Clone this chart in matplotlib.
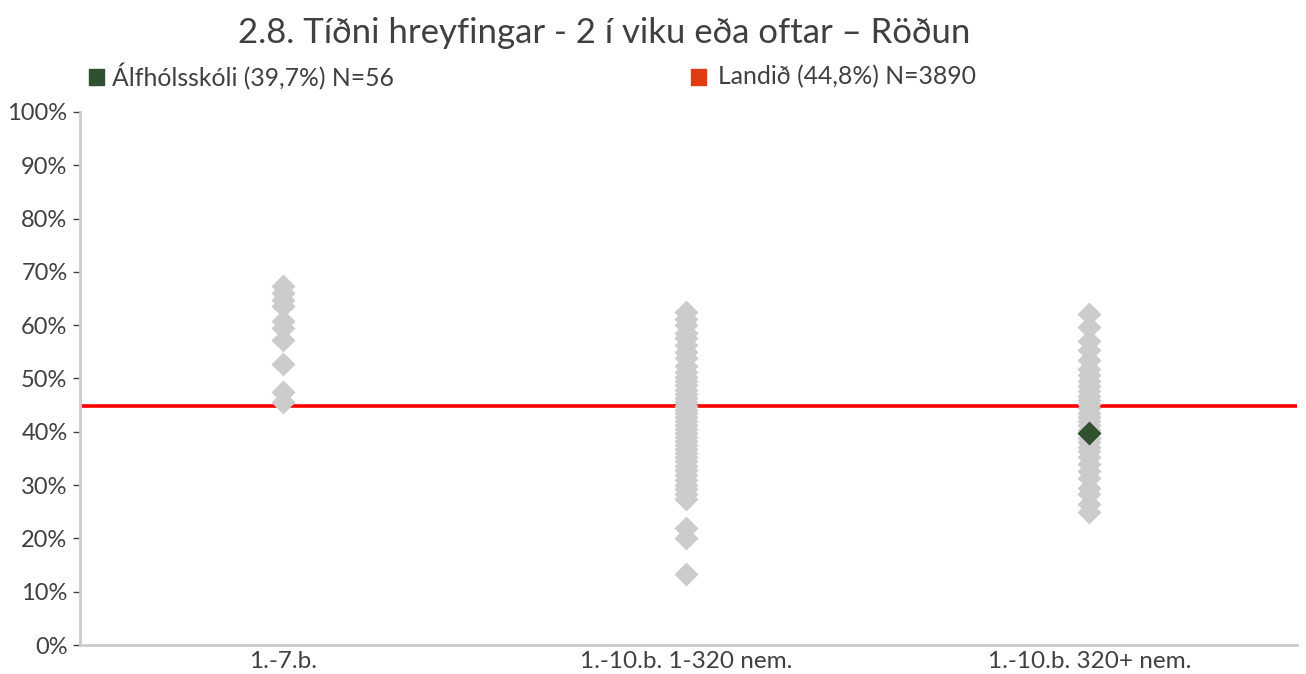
import matplotlib.pyplot as plt

plt.rcParams['font.family'] = ['Lato', 'DejaVu Sans']

categories = ['1.-7.b.', '1.-10.b. 1-320 nem.', '1.-10.b. 320+ nem.']

# school results per group, in percent
group_small = [67.4, 66.0, 64.7, 63.5, 60.7, 59.4, 57.2, 52.8, 47.4, 45.5]
group_mid = [62.4, 61.2, 60.1, 58.5, 57.6, 56.3, 55.0, 53.8, 52.4, 51.3,
             50.2, 49.5, 48.7, 47.9, 47.1, 46.4, 45.6, 44.9, 44.1, 43.5,
             42.8, 42.0, 41.3, 40.5, 39.8, 39.0, 38.2, 37.5, 36.7, 36.0,
             35.2, 34.5, 33.6, 32.8, 31.9, 31.0, 30.1, 29.2, 28.3, 27.3,
             21.9, 20.0, 13.4]
group_large = [62.0, 59.6, 57.0, 55.3, 53.5, 51.8, 50.6, 49.5, 48.5, 47.6,
               46.8, 46.0, 45.2, 44.4, 43.6, 42.8, 42.0, 41.2, 40.4, 39.7,
               38.8, 38.0, 37.2, 36.3, 35.2, 34.0, 32.6, 31.3, 29.5, 28.3,
               26.4, 24.9]
groups = [group_small, group_mid, group_large]

school_name = 'Álfhólsskóli'
school_value = 39.7
school_n = 56
school_group = 2
national_value = 44.8
national_n = 3890

fig = plt.figure(figsize=(13.06, 6.74), dpi=100)
ax = fig.add_axes([0.0613, 0.043, 0.932, 0.791])

text_col = '#404040'
axis_col = '#cccccc'

ax.axhline(national_value, color='#ff0000', lw=2.6, zorder=1)
for i, vals in enumerate(groups):
    ax.plot([i] * len(vals), vals, 'D', ms=12.5, color='#cccccc',
            mec='none', zorder=2)
ax.plot([school_group], [school_value], 'D', ms=12.5, color='#2f5130',
        mec='none', zorder=3)

ax.set_xlim(-0.504, 2.516)
ax.set_ylim(0, 100)
ax.set_yticks(range(0, 101, 10))
ax.set_yticklabels([f'{v}%' for v in range(0, 101, 10)])
ax.set_xticks(range(len(categories)))
ax.set_xticklabels(categories)

for s in ['top', 'right']:
    ax.spines[s].set_visible(False)
for s in ['left', 'bottom']:
    ax.spines[s].set_color(axis_col)
    ax.spines[s].set_linewidth(2)
ax.tick_params(axis='y', length=5, width=1, color=text_col, labelsize=17,
               labelcolor=text_col, pad=4)
ax.tick_params(axis='x', length=0, labelsize=17.5, labelcolor=text_col, pad=4)

fig.text(0.463, 0.951, '2.8. Tíðni hreyfingar - 2 í viku eða oftar – Röðun',
         ha='center', va='center', fontsize=25, color=text_col)

# legend entries
fig.patches.append(plt.Rectangle((89 / 1306, 1 - 85 / 674), 15 / 1306, 16 / 674,
                                 transform=fig.transFigure, color='#2f5130'))
fig.text(112 / 1306, 1 - 77 / 674,
         f'{school_name} ({school_value:.1f}%) N={school_n}'.replace('.', ','),
         va='center', fontsize=17.8, color=text_col)
fig.patches.append(plt.Rectangle((691 / 1306, 1 - 85 / 674), 15 / 1306, 16 / 674,
                                 transform=fig.transFigure, color='#e03c14'))
fig.text(718 / 1306, 1 - 77 / 674,
         f'Landið ({national_value:.1f}%) N={national_n}'.replace('.', ','),
         va='center', fontsize=17.8, color=text_col)

fig.savefig('out.png', dpi=100)
